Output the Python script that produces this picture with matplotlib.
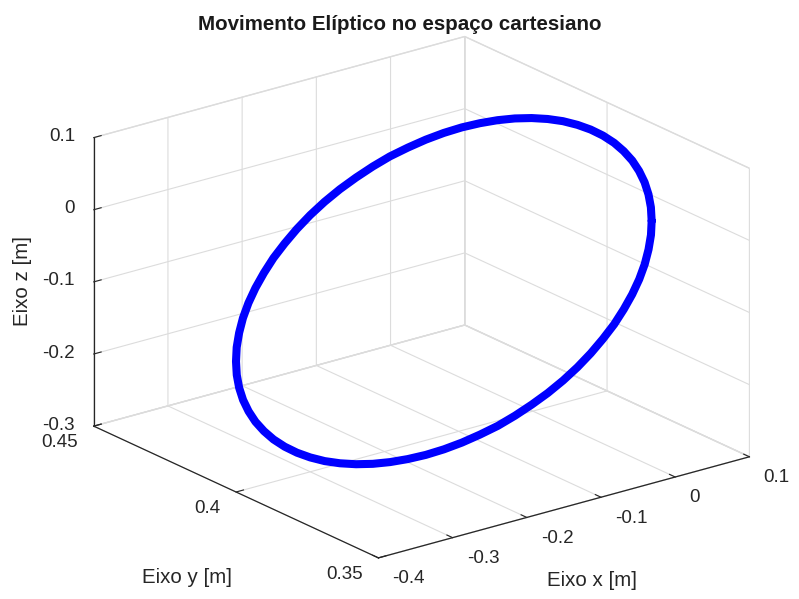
import numpy as np
import matplotlib.pyplot as plt

plt.rcParams['font.family'] = ['Liberation Sans', 'DejaVu Sans']
plt.rcParams['grid.color'] = '#dcdcdc'
plt.rcParams['grid.linewidth'] = 0.8

# trajectory (one lap, 5 degree steps)
x_pos = [0.0450, 0.0524, 0.0584, 0.0631, 0.0664, 0.0683, 0.0687, 0.0677, 0.0653, 0.0614,
         0.0562, 0.0497, 0.0418, 0.0328, 0.0225, 0.0112, -0.0011, -0.0144, -0.0284, -0.0431,
         -0.0584, -0.0742, -0.0904, -0.1067, -0.1232, -0.1396, -0.1559, -0.1719, -0.1875, -0.2026,
         -0.2171, -0.2308, -0.2437, -0.2557, -0.2666, -0.2764, -0.2850, -0.2924, -0.2984, -0.3031,
         -0.3064, -0.3083, -0.3087, -0.3077, -0.3053, -0.3014, -0.2962, -0.2897, -0.2818, -0.2728,
         -0.2625, -0.2512, -0.2389, -0.2256, -0.2116, -0.1969, -0.1816, -0.1658, -0.1496, -0.1333,
         -0.1168, -0.1004, -0.0841, -0.0681, -0.0525, -0.0374, -0.0229, -0.0092, 0.0037, 0.0157,
         0.0266, 0.0364]
y_pos = [0.3700, 0.3722, 0.3746, 0.3772, 0.3800, 0.3829, 0.3860, 0.3891, 0.3924, 0.3957,
         0.3990, 0.4024, 0.4057, 0.4090, 0.4122, 0.4153, 0.4183, 0.4212, 0.4239, 0.4264,
         0.4287, 0.4309, 0.4327, 0.4343, 0.4357, 0.4368, 0.4376, 0.4381, 0.4383, 0.4383,
         0.4379, 0.4373, 0.4364, 0.4352, 0.4337, 0.4320, 0.4300, 0.4278, 0.4254, 0.4228,
         0.4200, 0.4171, 0.4140, 0.4109, 0.4076, 0.4043, 0.4010, 0.3976, 0.3943, 0.3910,
         0.3878, 0.3847, 0.3817, 0.3788, 0.3761, 0.3736, 0.3713, 0.3691, 0.3673, 0.3657,
         0.3643, 0.3632, 0.3624, 0.3619, 0.3617, 0.3617, 0.3621, 0.3627, 0.3636, 0.3648,
         0.3663, 0.3680]
z_pos = [0.0060, 0.0187, 0.0304, 0.0412, 0.0509, 0.0595, 0.0668, 0.0729, 0.0776, 0.0810,
         0.0830, 0.0837, 0.0829, 0.0807, 0.0772, 0.0723, 0.0661, 0.0587, 0.0500, 0.0402,
         0.0293, 0.0175, 0.0047, -0.0089, -0.0231, -0.0379, -0.0532, -0.0689, -0.0848, -0.1008,
         -0.1168, -0.1327, -0.1483, -0.1636, -0.1783, -0.1925, -0.2060, -0.2187, -0.2304, -0.2412,
         -0.2509, -0.2595, -0.2668, -0.2729, -0.2776, -0.2810, -0.2830, -0.2837, -0.2829, -0.2807,
         -0.2772, -0.2723, -0.2661, -0.2587, -0.2500, -0.2402, -0.2293, -0.2175, -0.2047, -0.1911,
         -0.1769, -0.1621, -0.1468, -0.1311, -0.1152, -0.0992, -0.0832, -0.0673, -0.0517, -0.0364,
         -0.0217, -0.0075]

x_ticks = [-0.4, -0.3, -0.2, -0.1, 0, 0.1]
x_labels = ['-0.4', '-0.3', '-0.2', '-0.1', '0', '0.1']
y_ticks = [0.35, 0.4, 0.45]
y_labels = ['0.35', '0.4', '0.45']
z_ticks = [-0.3, -0.2, -0.1, 0, 0.1]
z_labels = ['-0.3', '-0.2', '-0.1', '0', '0.1']

fig = plt.figure(figsize=(7.99, 5.99), dpi=100)
ax = fig.add_axes([0.048, 0.016, 0.94, 0.95], projection='3d', proj_type='ortho')
ax.view_init(elev=20.8, azim=-127.5)
ax.set_box_aspect((1, 1, 0.66), zoom=1.245)

xs = np.append(x_pos, x_pos[0])
ys = np.append(y_pos, y_pos[0])
zs = np.append(z_pos, z_pos[0])
ax.plot(xs, ys, zs, color='#0000ff', lw=5.8, solid_capstyle='round', solid_joinstyle='round')

ax.set_xlim(-0.4, 0.1)
ax.set_ylim(0.35, 0.45)
ax.set_zlim(-0.3, 0.1)
ax.set_xticks(x_ticks, x_labels)
ax.set_yticks(y_ticks, y_labels)
ax.set_zticks(z_ticks, z_labels)

for axis in [ax.xaxis, ax.yaxis, ax.zaxis]:
    axis.set_pane_color((1, 1, 1, 1))
    axis.pane.set_edgecolor('#dcdcdc')
    axis.line.set_color('#262626')
    axis.line.set_linewidth(0.9)
    axis._axinfo['tick']['inward_factor'] = 0.0
    axis._axinfo['tick']['outward_factor'] = 0.25
ax.tick_params(colors='#262626', labelsize=13.5)
ax.tick_params(axis='x', pad=2.6)
ax.tick_params(axis='y', pad=1.0)
ax.tick_params(axis='z', pad=-1.9)

for axis, ha in [(ax.xaxis, 'left'), (ax.yaxis, 'right'), (ax.zaxis, 'right')]:
    for t in axis.get_major_ticks():
        t.label1.set_ha(ha)
        t.label1.set_va('center')

# axis titles
fig.text(0.741, 0.031, 'Eixo x [m]', fontsize=14.8, color='#262626', ha='center', va='center')
fig.text(0.234, 0.036, 'Eixo y [m]', fontsize=14.8, color='#262626', ha='center', va='center')
fig.text(0.028, 0.531, 'Eixo z [m]', fontsize=14.8, color='#262626', ha='center', va='center',
         rotation=90)
fig.suptitle('Movimento Elíptico no espaço cartesiano', fontsize=14.8, fontweight='bold',
             color='#1a1a1a', y=0.975)

fig.savefig('out.png', dpi=100)
